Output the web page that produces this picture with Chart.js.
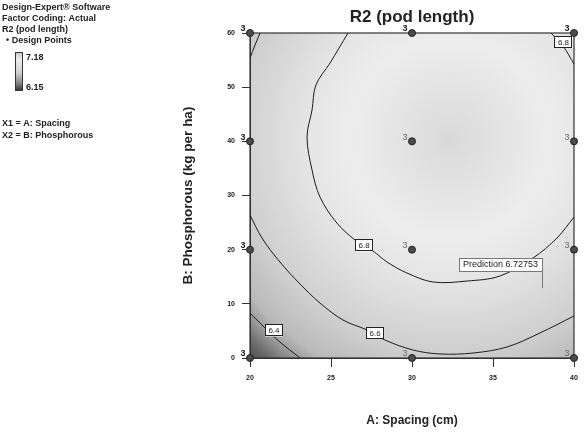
<!DOCTYPE html>
<html>
<head>
<meta charset="utf-8">
<script src="https://cdn.jsdelivr.net/npm/chart.js@4.4.0/dist/chart.umd.min.js"></script>
<style>
  html, body { margin: 0; padding: 0; background: #fff; }
  #wrap { width: 585px; height: 434px; position: relative; }
</style>
</head>
<body>
<div id="wrap"><canvas id="c" width="585" height="434"></canvas></div>
<script>
// Factor grid and axis ticks
const spacingTicks = [20, 25, 30, 35, 40];
const phosphorusTicks = [0, 10, 20, 30, 40, 50, 60];
const spacingLevels = [20, 30, 40];
const phosphorusLevels = [0, 20, 40, 60];
const replicates = 3;

// Contour lines of predicted pod length, [spacing, phosphorus]
const contour68 = [[26.05,60],[24.94,54.46],[24.07,50.4],[23.83,45.78],[23.52,40.8],[23.83,34.71],
  [24.32,29.72],[25.31,25.11],[26.48,21.78],[27.59,19.75],[28.46,17.72],[29.69,15.69],[31.3,14.03],
  [33.4,14.21],[35.43,15.14],[37.47,18.46],[38.95,22.15],[40,26.03]];
const contour68Corner = [[38.58,60],[39.32,57.6],[40,54.27]];
const contour66 = [[20,26.4],[20.74,22.15],[21.85,17.72],[23.09,13.66],[24.32,10.15],[25.74,7.01],
  [27.22,5.17],[28.33,3.32],[30.06,1.48],[31.73,0.74],[33.77,0.92],[35.86,2.03],[37.9,4.62],[40,7.75]];
const contour66Corner = [[20.62,60],[20.31,57.78],[20,55.38]];
const contour64 = [[20,8.31],[20.74,6.09],[21.85,2.95],[23.09,0]];

// Contour label anchors: [level, spacing, phosphorus]
const contourLabels = [['6.8',27.04,20.77],['6.6',27.72,4.62],['6.4',21.48,5.08],['6.8',39.35,58.33]];

// Stationary point of the fitted surface and the flagged prediction
const optimum = [32.35, 40.43];
const prediction = {spacing: 38.02, phosphorus: 12.92, value: 6.72753};
const legendRange = [6.15, 7.18];

const toPts = arr => arr.map(p => ({x: p[0], y: p[1]}));
const designPoints = [];
phosphorusLevels.forEach(p => spacingLevels.forEach(s => designPoints.push({x: s, y: p})));

const lineDs = (data) => ({
  data: toPts(data), showLine: true, tension: 0.35, pointRadius: 0, pointHoverRadius: 0,
  borderColor: '#1c1c1c', borderWidth: 1, fill: false
});

function meanRadius(chart, pts) {
  const xs = chart.scales.x, ys = chart.scales.y;
  const cx = xs.getPixelForValue(optimum[0]), cy = ys.getPixelForValue(optimum[1]);
  let s = 0;
  pts.forEach(p => { s += Math.hypot(xs.getPixelForValue(p[0]) - cx, ys.getPixelForValue(p[1]) - cy); });
  return s / pts.length;
}

const surfacePlugin = {
  id: 'surface',
  beforeDraw(chart) {
    const {ctx, chartArea: a} = chart;
    const xs = chart.scales.x, ys = chart.scales.y;
    const cx = xs.getPixelForValue(optimum[0]), cy = ys.getPixelForValue(optimum[1]);
    const r68 = meanRadius(chart, contour68), r66 = meanRadius(chart, contour66), r64 = meanRadius(chart, contour64);
    const rMax = r64 + 40;
    const g = ctx.createRadialGradient(cx, cy, 0, cx, cy, rMax);
    const st = (r, c) => g.addColorStop(Math.min(1, r / rMax), c);
    st(0, '#d9d9d9');
    st(r68 * 0.3, '#e2e2e2');
    st(r68 * 0.7, '#ededed');
    st(r68, '#e5e5e5');
    st(r66, '#cfcfcf');
    st(r64 - 12, '#bababa');
    st(r64, '#a0a0a0');
    st(r64 + 20, '#666666');
    st(rMax, '#424242');
    ctx.save();
    ctx.fillStyle = g;
    ctx.fillRect(a.left, a.top, a.right - a.left, a.bottom - a.top);
    ctx.restore();

    // Header text block and colour key
    ctx.save();
    ctx.fillStyle = '#222';
    ctx.textBaseline = 'middle';
    ctx.textAlign = 'left';
    ctx.font = 'bold 9px "Liberation Sans", Arial, sans-serif';
    ctx.fillText('Design-Expert\u00AE Software', 2, 8);
    ctx.fillText('Factor Coding: Actual', 2, 19);
    ctx.fillText('R2 (pod length)', 2, 30);
    ctx.fillText('\u2022 Design Points', 6, 41);
    const bx = 15, by = 52, bw = 7, bh = 38;
    const lg = ctx.createLinearGradient(0, by, 0, by + bh);
    lg.addColorStop(0, '#c4c4c4');
    lg.addColorStop(0.2, '#eeeeee');
    lg.addColorStop(0.55, '#cfcfcf');
    lg.addColorStop(0.8, '#8c8c8c');
    lg.addColorStop(1, '#3a3a3a');
    ctx.fillStyle = lg;
    ctx.fillRect(bx, by, bw, bh);
    ctx.strokeStyle = '#333';
    ctx.lineWidth = 1;
    ctx.strokeRect(bx + 0.5, by + 0.5, bw, bh);
    ctx.fillStyle = '#222';
    ctx.fillText(legendRange[1].toFixed(2), bx + bw + 4, by + 6);
    ctx.fillText(legendRange[0].toFixed(2), bx + bw + 4, by + bh - 2);
    ctx.fillText('X1 = A: Spacing', 2, 124);
    ctx.fillText('X2 = B: Phosphorous', 2, 136);
    // Chart heading, centred over the plot
    ctx.textAlign = 'center';
    ctx.font = 'bold 17px "Liberation Sans", Arial, sans-serif';
    ctx.fillText('R2 (pod length)', (a.left + a.right) / 2, 17);
    ctx.restore();
  },
  beforeDatasetsDraw(chart) {
    const {ctx, chartArea: a} = chart;
    ctx.save();
    ctx.strokeStyle = '#333';
    ctx.lineWidth = 1.2;
    ctx.strokeRect(a.left, a.top, a.right - a.left, a.bottom - a.top);
    ctx.restore();
  },
  afterDatasetsDraw(chart) {
    const {ctx, chartArea: a} = chart;
    const xs = chart.scales.x, ys = chart.scales.y;
    ctx.save();
    // Contour level tags
    ctx.font = '8px "Liberation Sans", Arial, sans-serif';
    ctx.textAlign = 'center';
    ctx.textBaseline = 'middle';
    contourLabels.forEach(([lv, sx, py]) => {
      const x = xs.getPixelForValue(sx), y = ys.getPixelForValue(py);
      ctx.fillStyle = '#fff';
      ctx.fillRect(x - 9, y - 6, 18, 12);
      ctx.strokeStyle = '#222';
      ctx.lineWidth = 1;
      ctx.strokeRect(Math.round(x - 9) + 0.5, Math.round(y - 6) + 0.5, 17, 11);
      ctx.fillStyle = '#222';
      ctx.fillText(lv, x, y + 0.5);
    });
    // Replicate counts beside each design point
    designPoints.forEach(p => {
      const x = xs.getPixelForValue(p.x), y = ys.getPixelForValue(p.y);
      const tx = x - 7, ty = y - 4;
      const outside = tx < a.left + 2 || ty < a.top + 2;
      ctx.font = (outside ? 'bold ' : '') + '9px "Liberation Sans", Arial, sans-serif';
      ctx.fillStyle = outside ? '#1a1a1a' : '#6a6a6a';
      ctx.fillText(String(replicates), tx, ty);
    });
    // Prediction flag
    const fx = xs.getPixelForValue(prediction.spacing), fy = ys.getPixelForValue(prediction.phosphorus);
    const txt = 'Prediction ' + prediction.value.toFixed(5);
    ctx.font = '9px "Liberation Sans", Arial, sans-serif';
    const tw = ctx.measureText(txt).width + 8;
    const bh = 13, bottom = Math.round(fy - 17);
    ctx.fillStyle = '#fff';
    ctx.fillRect(Math.round(fx - tw), bottom - bh, tw, bh);
    ctx.strokeStyle = '#777';
    ctx.lineWidth = 1;
    ctx.strokeRect(Math.round(fx - tw) + 0.5, bottom - bh + 0.5, tw, bh);
    ctx.beginPath();
    ctx.moveTo(Math.round(fx) + 0.5, bottom);
    ctx.lineTo(Math.round(fx) + 0.5, fy);
    ctx.stroke();
    ctx.fillStyle = '#222';
    ctx.textAlign = 'left';
    ctx.fillText(txt, Math.round(fx - tw) + 4, bottom - bh / 2 + 0.5);
    ctx.restore();
  }
};

const tickFont = {family: '"Liberation Sans", Arial, sans-serif', size: 7, weight: 'bold'};
const xTitleFont = {family: '"Liberation Sans", Arial, sans-serif', size: 12, weight: 'bold'};
const yTitleFont = {family: '"Liberation Sans", Arial, sans-serif', size: 13.5, weight: 'bold'};

new Chart(document.getElementById('c'), {
  type: 'scatter',
  data: {
    datasets: [
      lineDs(contour68), lineDs(contour68Corner), lineDs(contour66), lineDs(contour66Corner), lineDs(contour64),
      {
        data: designPoints, pointRadius: 3.5, pointHoverRadius: 3.5,
        backgroundColor: '#4c4c4c', borderColor: '#1e1e1e', borderWidth: 1, clip: false
      }
    ]
  },
  options: {
    responsive: false,
    animation: false,
    devicePixelRatio: 1,
    layout: {padding: {top: 33, right: 11, bottom: 0, left: 0}},
    plugins: {legend: {display: false}, tooltip: {enabled: false}, title: {display: false}},
    scales: {
      x: {
        type: 'linear', min: 20, max: 40,
        afterBuildTicks: s => { s.ticks = spacingTicks.map(v => ({value: v})); },
        afterFit: s => { s.height = 76; },
        ticks: {font: tickFont, color: '#222', padding: 7},
        grid: {display: true, drawOnChartArea: false, drawTicks: true, tickLength: 9, color: '#333'},
        border: {display: true, color: '#333'},
        title: {display: true, text: 'A: Spacing (cm)', font: xTitleFont, color: '#222', padding: {top: 0, bottom: 6}}
      },
      y: {
        type: 'linear', min: 0, max: 60,
        afterBuildTicks: s => { s.ticks = phosphorusTicks.map(v => ({value: v})); },
        afterFit: s => { s.width = 250; },
        ticks: {font: tickFont, color: '#222', padding: 7},
        grid: {display: true, drawOnChartArea: false, drawTicks: true, tickLength: 8, color: '#333'},
        border: {display: true, color: '#333'},
        title: {display: true, text: 'B: Phosphorous (kg per ha)', font: yTitleFont, color: '#222', padding: {top: 180, bottom: 0}}
      }
    }
  },
  plugins: [surfacePlugin]
});
</script>
</body>
</html>
